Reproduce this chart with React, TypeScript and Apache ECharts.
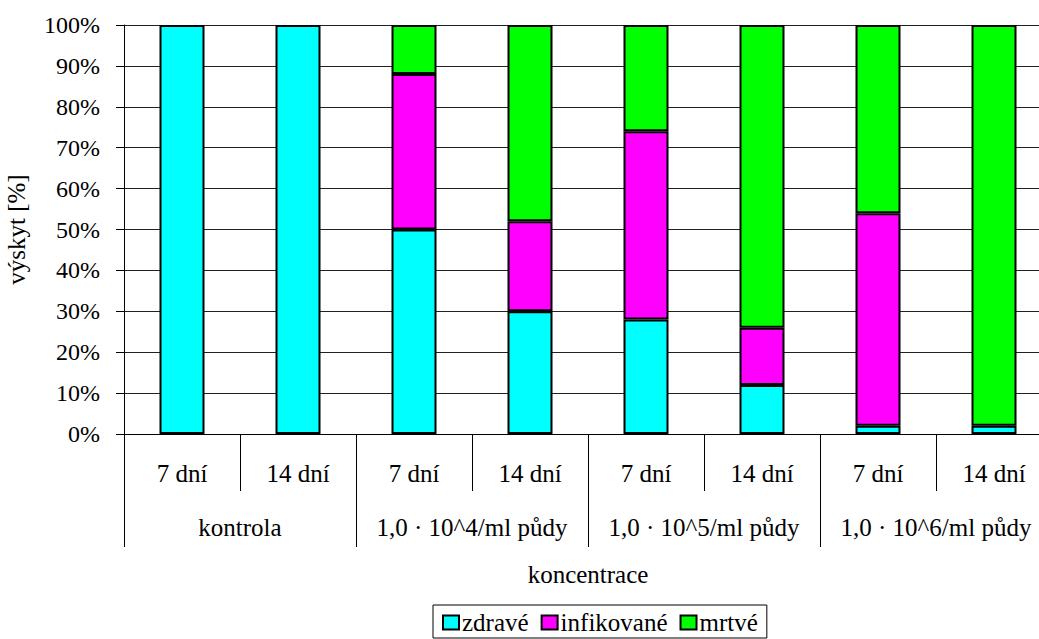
import React, { useEffect, useRef } from "react";
import * as echarts from "echarts";

const periods = ["7 dní", "14 dní", "7 dní", "14 dní", "7 dní", "14 dní", "7 dní", "14 dní"];
const groups = ["kontrola", "1,0 · 10^4/ml půdy", "1,0 · 10^5/ml půdy", "1,0 · 10^6/ml půdy"];
const yTicks = [0, 10, 20, 30, 40, 50, 60, 70, 80, 90, 100];

const zdrave = [100, 100, 50, 30, 28, 12, 2, 2];
const infikovane = [0, 0, 38, 22, 46, 14, 52, 0];
const mrtve = [0, 0, 12, 48, 26, 74, 46, 98];

const seriesNames = ["zdravé", "infikované", "mrtvé"];
const seriesColors = ["#00FFFF", "#FF00FF", "#00FF00"];

const FONT = "'Liberation Serif', 'Times New Roman', 'DejaVu Serif', serif";

export default function App() {
  const ref = useRef<HTMLDivElement>(null);

  useEffect(() => {
    if (!ref.current) return;
    const chart = echarts.init(ref.current, null, { renderer: "svg" });
    const datasets = [zdrave, infikovane, mrtve];
    const textStyle = { fontFamily: FONT, fontSize: 25, color: "#000" };
    chart.setOption({
      animation: false,
      textStyle: { fontFamily: FONT },
      grid: {
        left: 124,
        right: -13,
        top: 25,
        bottom: 205,
        containLabel: false,
        outerBoundsMode: "none",
      },
      legend: {
        left: 433,
        top: 605,
        orient: "horizontal",
        data: seriesNames,
        icon: "rect",
        itemWidth: 16,
        itemHeight: 14,
        itemGap: 12,
        padding: [5, 9, 3, 9],
        borderColor: "#000",
        borderWidth: 1,
        itemStyle: { borderColor: "#000", borderWidth: 2 },
        textStyle: { ...textStyle, padding: [0, 0, 0, -2] },
      },
      xAxis: [
        {
          type: "category",
          data: periods,
          position: "bottom",
          axisLine: { show: true, lineStyle: { color: "#000", width: 1 } },
          axisTick: { show: true, interval: 0, length: 57, lineStyle: { color: "#000" } },
          axisLabel: { ...textStyle, interval: 0, margin: 27 },
          splitLine: { show: false },
        },
        {
          type: "category",
          data: groups,
          position: "bottom",
          axisLine: { show: false },
          axisTick: { show: true, interval: 0, length: 113, lineStyle: { color: "#000" } },
          axisLabel: { ...textStyle, interval: 0, margin: 81 },
          name: "koncentrace",
          nameLocation: "middle",
          nameGap: 128,
          nameTextStyle: textStyle,
        },
      ],
      yAxis: {
        type: "value",
        min: yTicks[0],
        max: yTicks[yTicks.length - 1],
        interval: 10,
        name: "výskyt [%]",
        nameLocation: "middle",
        nameGap: 95,
        nameRotate: 90,
        nameTextStyle: textStyle,
        axisLine: { show: true, lineStyle: { color: "#000", width: 1 } },
        axisTick: { show: true, length: 8, lineStyle: { color: "#000" } },
        axisLabel: { ...textStyle, fontSize: 24, margin: 24, formatter: (v: number) => v + "%" },
        splitLine: { show: true, lineStyle: { color: "#222", width: 1 } },
      },
      series: datasets.map((d, i) => ({
        name: seriesNames[i],
        type: "bar",
        stack: "total",
        xAxisIndex: 0,
        barWidth: 45,
        data: d.map((v) => (v === 0 ? "-" : v)),
        itemStyle: { color: seriesColors[i], borderColor: "#000", borderWidth: 2 },
      })),
    });
    return () => chart.dispose();
  }, []);

  return (
    <div
      ref={ref}
      style={{ position: "fixed", left: 0, top: 0, width: 1039, height: 639, background: "#fff" }}
    />
  );
}
